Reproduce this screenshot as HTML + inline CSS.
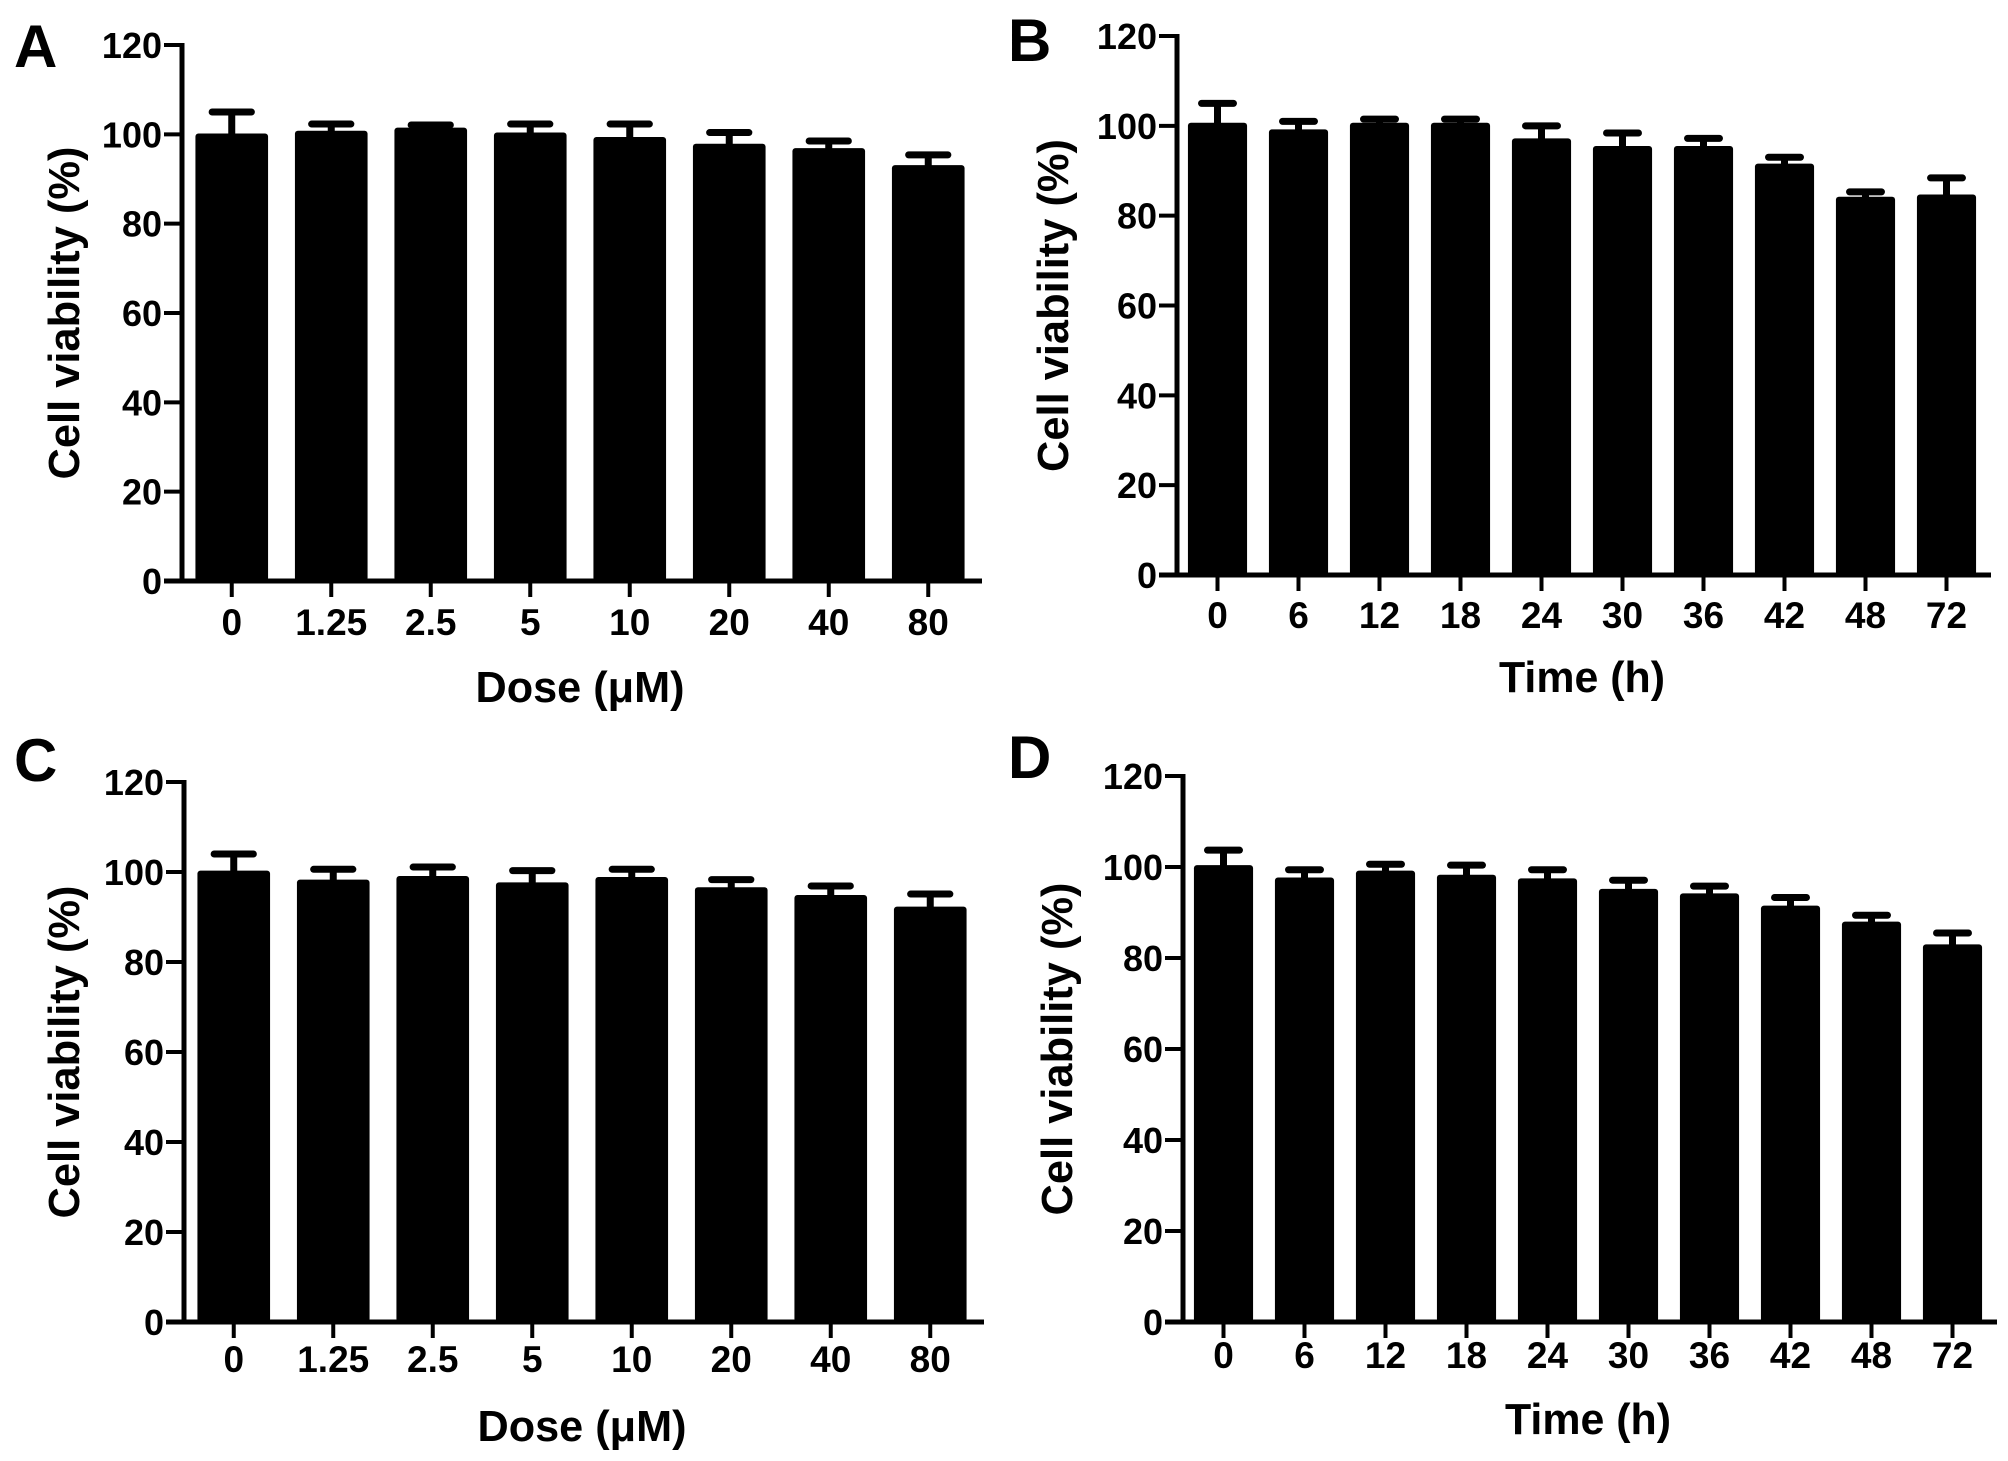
<!DOCTYPE html>
<html><head><meta charset="utf-8"><style>
html,body{margin:0;padding:0;background:#fff;}
svg{display:block;font-family:"Liberation Sans",Arial,sans-serif;font-weight:bold;}
</style></head><body>
<svg id="fig" width="2008" height="1461" viewBox="0 0 2008 1461" xmlns="http://www.w3.org/2000/svg"></svg>
<script>
var yTicks = [0, 20, 40, 60, 80, 100, 120];
var doseCats = ["0", "1.25", "2.5", "5", "10", "20", "40", "80"];
var timeCats = ["0", "6", "12", "18", "24", "30", "36", "42", "48", "72"];
var valuesA = [100.2, 100.8, 101.5, 100.4, 99.4, 97.9, 96.9, 93.1];
var errorsA = [105, 102.3, 102.1, 102.3, 102.3, 100.4, 98.5, 95.4];
var valuesB = [100.7, 99.2, 100.7, 100.7, 97.2, 95.5, 95.5, 91.6, 84.2, 84.7];
var errorsB = [105, 101, 101.5, 101.5, 100, 98.4, 97.2, 93, 85.3, 88.4];
var valuesC = [100.3, 98.3, 99.1, 97.7, 98.9, 96.6, 94.9, 92.3];
var errorsC = [104, 100.6, 101.1, 100.3, 100.6, 98.3, 96.9, 95.1];
var valuesD = [100.4, 97.7, 99.2, 98.3, 97.5, 95.2, 94.2, 91.5, 88, 83];
var errorsD = [103.7, 99.4, 100.6, 100.4, 99.4, 97.1, 95.8, 93.3, 89.4, 85.5];

var NS = "http://www.w3.org/2000/svg";
var svg = document.getElementById('fig');
function mk(tag, attrs, parent) {
  var e = document.createElementNS(NS, tag);
  for (var k in attrs) e.setAttribute(k, attrs[k]);
  (parent || svg).appendChild(e);
  return e;
}
function panel(p) {
  var g = mk('g', {});
  
  
  function yS(v) { return p.y0 - (v / 120) * (p.y0 - p.y120); }
  function xS(i) { return p.ax + p.band * (i + 0.5); }
  var lbl = mk('text', {x: 14, y: 0, 'font-size': 60}, g);
  lbl.setAttribute('x', p.lx); lbl.setAttribute('y', p.ly);
  lbl.textContent = p.id;
  
  
  // bars
  for (var i = 0; i < p.vals.length; i++) {
    var cx = xS(i), w = p.band * 0.73;
    var et = yS(p.errs[i]), bt = yS(p.vals[i]);
    var el = mk('line', {x1: cx, x2: cx, y1: et, y2: bt + 2, stroke: '#000', 'stroke-width': 7}, g);
    
    
    var cap = mk('line', {x1: cx - w * 0.27, x2: cx + w * 0.27, y1: et, y2: et, stroke: '#000', 'stroke-width': 7, 'stroke-linecap': 'round'}, g);
    
    
    var r = mk('rect', {x: cx - w / 2, y: bt, width: w, height: p.y0 - bt, fill: '#000', rx: 3}, g);
    
    
    var t = mk('line', {x1: cx, x2: cx, y1: p.y0, y2: p.y0 + 16, stroke: '#000', 'stroke-width': 4}, g);
    
    
    var tl = mk('text', {x: cx, y: p.tly, 'font-size': 37, 'text-anchor': 'middle'}, g);
    tl.textContent = p.cats[i];
    
    
  }
  // axes
  var ya = mk('line', {x1: p.ax, x2: p.ax, y1: p.y120 - 2, y2: p.y0 + 2, stroke: '#000', 'stroke-width': 5}, g);
  
  
  var xa = mk('line', {x1: p.ax - 18, x2: p.ax + p.band * p.vals.length + 4, y1: p.y0, y2: p.y0, stroke: '#000', 'stroke-width': 5}, g);
  
  
  for (var j = 0; j < yTicks.length; j++) {
    var yy = yS(yTicks[j]);
    var yt = mk('line', {x1: p.ax - 18, x2: p.ax, y1: yy, y2: yy, stroke: '#000', 'stroke-width': 4}, g);
    
    
    var ytl = mk('text', {x: p.ax - 20, y: yy + 13, 'font-size': 36, 'text-anchor': 'end'}, g);
    ytl.textContent = String(yTicks[j]);
    
    
  }
  var ymid = (p.y0 + p.y120) / 2;
  var yt2 = mk('text', {x: 0, y: 0, 'font-size': 44, 'text-anchor': 'middle', textLength: 333, lengthAdjust: 'spacingAndGlyphs', transform: 'translate(' + p.ytx + ',' + ymid + ') rotate(-90)'}, g);
  yt2.textContent = 'Cell viability (%)';
  
  
  var xt = mk('text', {x: p.ax + p.band * p.vals.length / 2, y: p.xty, 'font-size': 44, 'text-anchor': 'middle', textLength: p.xtl, lengthAdjust: 'spacingAndGlyphs'}, g);
  xt.textContent = p.xtitle;
  
  
}
panel({id: 'A', ax: 182, y0: 581, y120: 45, band: 99.5, cats: doseCats, vals: valuesA, errs: errorsA, tly: 635, xty: 702, xtitle: 'Dose (\u03bcM)', xtl: 209, ytx: 79, lx: 14, ly: 67});
panel({id: 'B', ax: 1177, y0: 575, y120: 36, band: 81, cats: timeCats, vals: valuesB, errs: errorsB, tly: 628, xty: 692, xtitle: 'Time (h)', xtl: 166, ytx: 1068, lx: 1008, ly: 61});
panel({id: 'C', ax: 184, y0: 1322, y120: 782, band: 99.5, cats: doseCats, vals: valuesC, errs: errorsC, tly: 1372, xty: 1441, xtitle: 'Dose (\u03bcM)', xtl: 209, ytx: 79, lx: 14, ly: 781});
panel({id: 'D', ax: 1183, y0: 1322, y120: 776, band: 81, cats: timeCats, vals: valuesD, errs: errorsD, tly: 1368, xty: 1434, xtitle: 'Time (h)', xtl: 166, ytx: 1072, lx: 1008, ly: 778});
</script>
</body></html>
